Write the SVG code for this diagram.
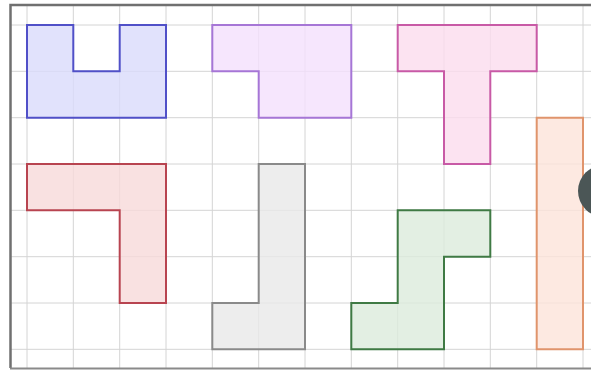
<svg xmlns="http://www.w3.org/2000/svg" width="591" height="370" viewBox="0 0 591 370">
<style>
.grid line{stroke:#d4d4d4;stroke-width:1}
.sh{stroke-width:2;stroke-linejoin:miter;fill-opacity:0.8}
</style>
<rect x="0" y="0" width="591" height="370" fill="#ffffff"/>
<g class="grid">
<line x1="27" y1="5" x2="27" y2="368"/>
<line x1="73.3" y1="5" x2="73.3" y2="368"/>
<line x1="119.7" y1="5" x2="119.7" y2="368"/>
<line x1="166" y1="5" x2="166" y2="368"/>
<line x1="212.3" y1="5" x2="212.3" y2="368"/>
<line x1="258.7" y1="5" x2="258.7" y2="368"/>
<line x1="305" y1="5" x2="305" y2="368"/>
<line x1="351.3" y1="5" x2="351.3" y2="368"/>
<line x1="397.7" y1="5" x2="397.7" y2="368"/>
<line x1="444" y1="5" x2="444" y2="368"/>
<line x1="490.3" y1="5" x2="490.3" y2="368"/>
<line x1="536.7" y1="5" x2="536.7" y2="368"/>
<line x1="583" y1="5" x2="583" y2="368"/>
<line x1="10" y1="25" x2="591" y2="25"/>
<line x1="10" y1="71.3" x2="591" y2="71.3"/>
<line x1="10" y1="117.7" x2="591" y2="117.7"/>
<line x1="10" y1="164" x2="591" y2="164"/>
<line x1="10" y1="210.3" x2="591" y2="210.3"/>
<line x1="10" y1="256.7" x2="591" y2="256.7"/>
<line x1="10" y1="303" x2="591" y2="303"/>
<line x1="10" y1="349.3" x2="591" y2="349.3"/>
</g>
<g id="frame">
<path d="M10.5 368 V5 H591" fill="none" stroke="#707070" stroke-width="2.5"/>
<line x1="10" y1="368.5" x2="591" y2="368.5" stroke="#8a8a8a" stroke-width="2"/>
</g>
<g id="blue"><path class="sh" d="M27 25 H73.3 V71.3 H119.7 V25 H166 V117.7 H27 Z" fill="#dadbfb" stroke="#5050c8"/></g>
<g id="purple"><path class="sh" d="M212.3 25 H351.3 V117.7 H258.7 V71.3 H212.3 Z" fill="#f4e0fc" stroke="#a676d6"/></g>
<g id="pink"><path class="sh" d="M397.7 25 H536.7 V71.3 H490.3 V164 H444 V71.3 H397.7 Z" fill="#fbdcee" stroke="#c85aa6"/></g>
<g id="red"><path class="sh" d="M27 164 H166 V303 H119.7 V210.3 H27 Z" fill="#f8d9d9" stroke="#b84450"/></g>
<g id="gray"><path class="sh" d="M258.7 164 H305 V349.3 H212.3 V303 H258.7 Z" fill="#e8e8e8" stroke="#8a8a8a"/></g>
<g id="green"><path class="sh" d="M397.7 210.3 H490.3 V256.7 H444 V349.3 H351.3 V303 H397.7 Z" fill="#dcebdc" stroke="#3f7a44"/></g>
<g id="orange"><path class="sh" d="M536.7 117.7 H583 V349.3 H536.7 Z" fill="#fde4d9" stroke="#e0946c"/></g>
<g id="dot"><circle cx="604" cy="191" r="26" fill="#4b5656"/></g>
</svg>
